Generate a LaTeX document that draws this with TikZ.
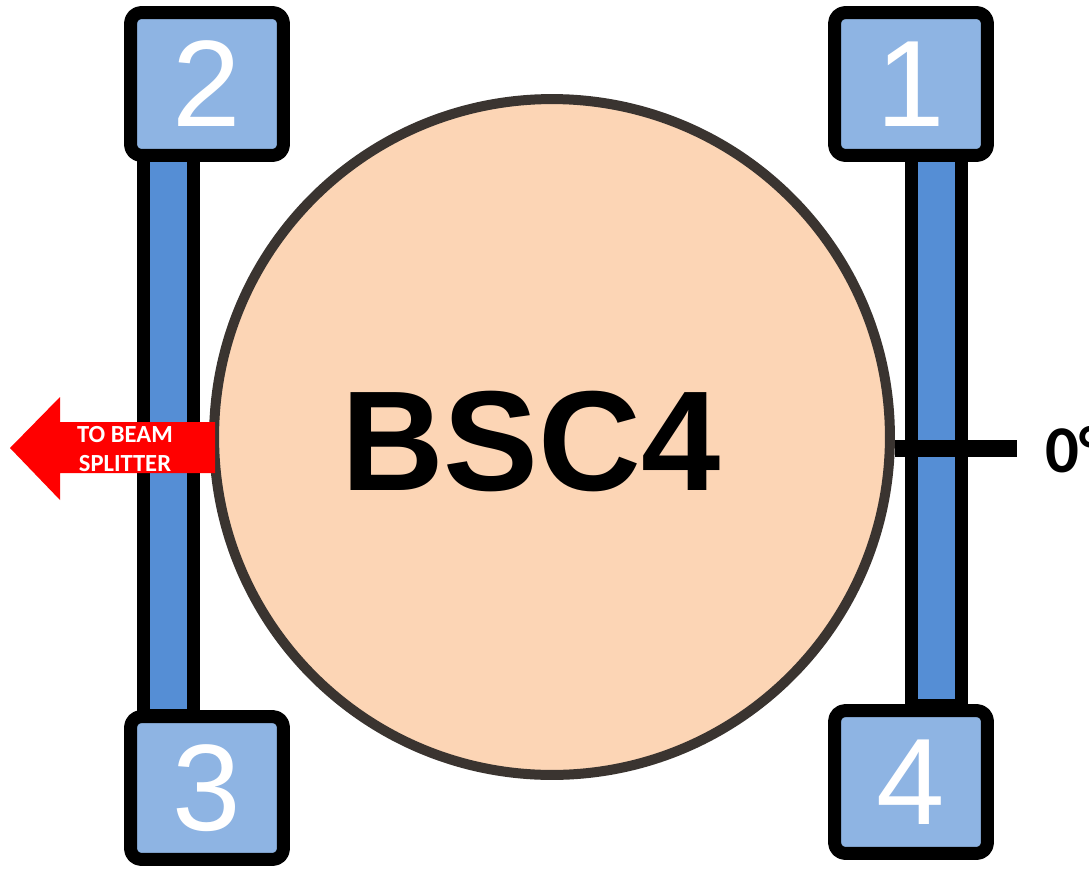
\documentclass[tikz,border=0pt]{standalone}
\usepackage{fontspec}
\setmainfont{Carlito}
\newfontfamily\portfont{Liberation Sans}
\usetikzlibrary{positioning}
\definecolor{portblue}{HTML}{8EB4E3}
\definecolor{railblue}{HTML}{558ED5}
\definecolor{mirrorpeach}{HTML}{FCD5B5}
\definecolor{rimgrey}{HTML}{3A3430}
\begin{document}
\begin{tikzpicture}[x=0.02cm, y=-0.02cm, line join=round,
  port/.style={draw=black, line width=0.26cm, fill=portblue, rounded corners=0.22cm,
    minimum width=3.06cm, minimum height=2.86cm, inner sep=0pt, text=white,
    font=\portfont\fontsize{70}{70}\selectfont},
  rail/.style={draw=black, line width=0.26cm, fill=railblue, minimum width=1.0cm, inner sep=0pt},
  tickline/.style={line width=0.34cm}]

\useasboundingbox (0,0) rectangle (1089,876);

% the two rails
\node[rail, minimum height=11.32cm] (railL) at (168.5,433) {};
\node[rail, minimum height=11.10cm] (railR) at (936.5,428) {};

% corner ports
\node[port] (p2) at (207,84) {2};
\node[port] (p1) at (911,84) {1};
\node[port] (p3) at (207,788) {3};
\node[port] (p4) at (911,782) {4};

% the splitter cube seen from above
\node[circle, draw=rimgrey, line width=0.2cm, fill=mirrorpeach, minimum size=13.52cm, inner sep=0pt] (bsc) at (552,437) {};
\node[font=\portfont\bfseries\fontsize{81}{81}\selectfont] (name) at (531,442) {BSC4};

% zero mark
\coordinate (tickend) at (1017,448);
\draw[tickline] (bsc.east |- tickend) -- (tickend);
\node[anchor=west, font=\bfseries\fontsize{38}{38}\selectfont, inner sep=0pt] (deg) at (1045,450) {0°};

% output arrow
\fill[red] (215,422) -- (60,422) -- (60,397) -- (10,448) -- (60,500) -- (60,473) -- (215,473) -- cycle;
\node[text=white, align=center, font=\bfseries\fontsize{14}{16}\selectfont, inner sep=0pt] (out) at (125,449) {TO BEAM\\SPLITTER};

\end{tikzpicture}
\end{document}
